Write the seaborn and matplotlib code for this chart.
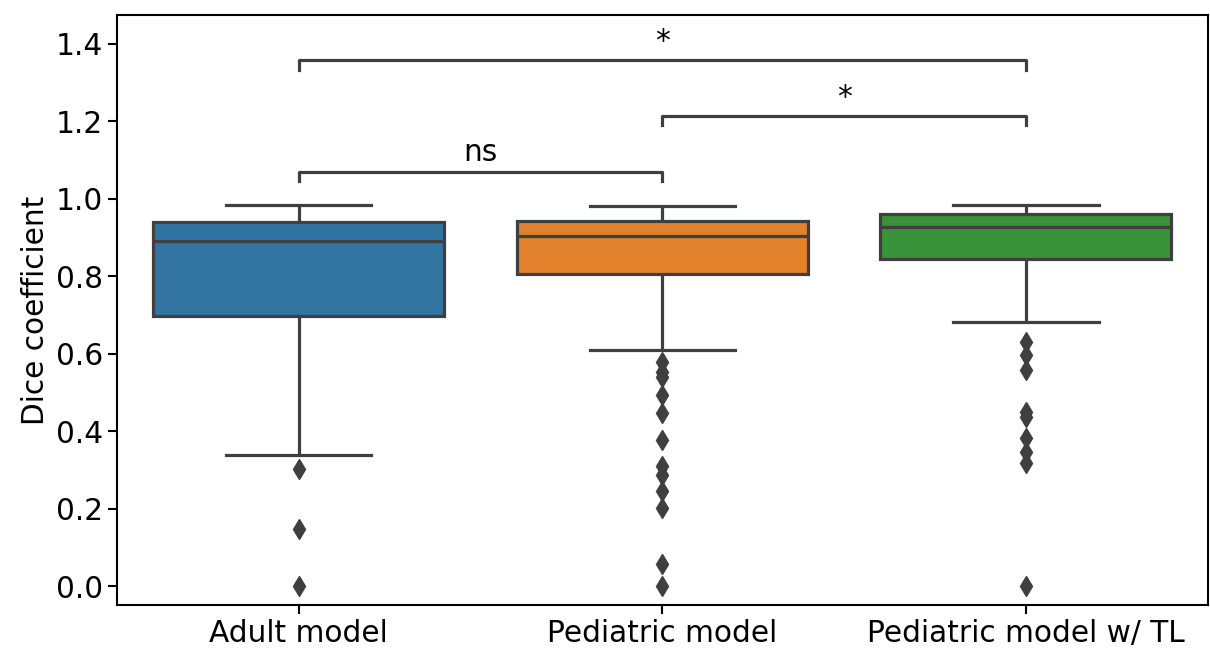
# Dice coefficient boxplots for the three segmentation models

import pandas as pd
import matplotlib.pyplot as plt
import seaborn as sns

# ---- data ----
models = ["Adult model", "Pediatric model", "Pediatric model w/ TL"]

adult_dice = [
    0.000, 0.147, 0.303, 0.340, 0.560, 0.697, 0.760, 0.810, 0.850, 0.875,
    0.890, 0.905, 0.915, 0.925, 0.933, 0.940, 0.950, 0.960, 0.970, 0.978,
    0.985,
]

pediatric_dice = [
    0.001, 0.057, 0.202, 0.245, 0.288, 0.310, 0.378, 0.447, 0.494, 0.541,
    0.554, 0.580, 0.609, 0.805, 0.812, 0.820, 0.828, 0.835, 0.843, 0.850,
    0.858, 0.866, 0.874, 0.882, 0.890, 0.897, 0.903, 0.906, 0.909, 0.912,
    0.915, 0.918, 0.921, 0.924, 0.927, 0.930, 0.934, 0.937, 0.940, 0.943,
    0.945, 0.947, 0.949, 0.952, 0.954, 0.956, 0.959, 0.962, 0.965, 0.969,
    0.973, 0.977, 0.981,
]

pediatric_tl_dice = [
    0.000, 0.318, 0.348, 0.383, 0.436, 0.451, 0.558, 0.597, 0.631, 0.683,
    0.844, 0.853, 0.862, 0.871, 0.880, 0.889, 0.898, 0.907, 0.914, 0.921,
    0.927, 0.930, 0.934, 0.937, 0.941, 0.944, 0.948, 0.951, 0.954, 0.957,
    0.960, 0.962, 0.964, 0.966, 0.969, 0.972, 0.975, 0.978, 0.981, 0.983,
    0.985,
]

# pairwise comparisons and their significance labels
pairs = [(0, 1), (1, 2), (0, 2)]
pair_labels = ["ns", "*", "*"]

df = pd.DataFrame({
    "model": [models[0]] * len(adult_dice)
    + [models[1]] * len(pediatric_dice)
    + [models[2]] * len(pediatric_tl_dice),
    "dice": adult_dice + pediatric_dice + pediatric_tl_dice,
})

# ---- plot ----
fs = 21.3
plt.rcParams["font.family"] = ["DejaVu Sans"]
plt.rcParams["font.size"] = fs

fig = plt.figure(figsize=(12.1, 6.51), dpi=100)
ax = fig.add_axes([0.0967, 0.0699, 0.9013, 0.9078])

line_gray = "#3f3f3f"
sns.boxplot(
    data=df, x="model", y="dice", hue="model", palette="tab10",
    order=models, hue_order=models, saturation=0.75, legend=False,
    linewidth=2.3, linecolor=line_gray, fliersize=10.5,
    flierprops={"marker": "d", "markerfacecolor": line_gray,
                "markeredgecolor": line_gray},
    ax=ax,
)

# significance brackets (statannotations-like)
top = df["dice"].max()
h = 0.025
for i, ((a, b), lab) in enumerate(zip(pairs, pair_labels)):
    y = top + 0.06 + i * 0.144
    ax.plot([a, a, b, b], [y, y + h, y + h, y], color=line_gray, lw=2.3)
    ax.annotate(lab, xy=((a + b) / 2, y + h), xytext=(0, 3),
                textcoords="offset points", ha="center", va="bottom",
                fontsize=fs)

ax.set_ylim(-0.049, 1.475)
ax.set_xlim(-0.5, 2.5)
ax.set_yticks([0.0, 0.2, 0.4, 0.6, 0.8, 1.0, 1.2, 1.4])
ax.set_xlabel("")
ax.set_ylabel("Dice coefficient")
ax.tick_params(width=1.5, length=6.5, labelsize=fs)
for s in ax.spines.values():
    s.set_linewidth(1.5)

fig.savefig("out.png", dpi=100)
